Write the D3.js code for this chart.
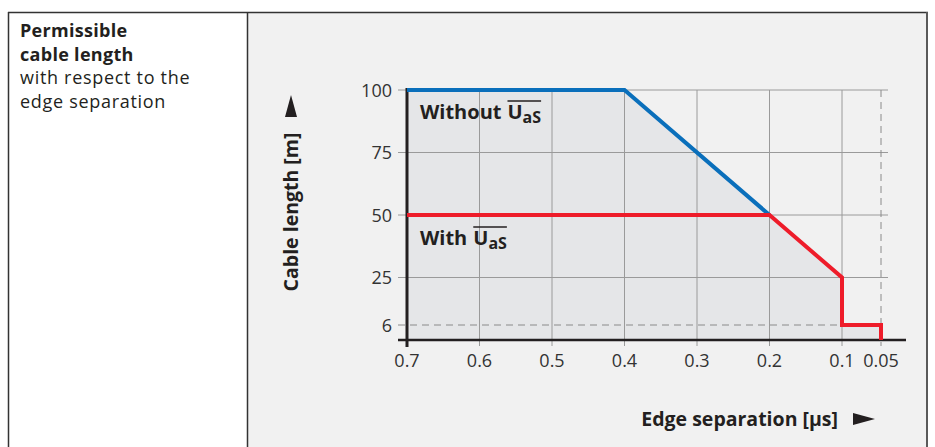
<!DOCTYPE html>
<html lang="en">
<head>
<meta charset="UTF-8">
<script src="https://d3js.org/d3.v7.min.js"></script>
<style>
  body { margin: 0; background: #fff; }
  svg text { font-family: "Open Sans", "Liberation Sans", sans-serif; fill: #231f20; }
</style>
</head>
<body>
<div id="chart"></div>
<script>
// data
const xTicks = [0.7, 0.6, 0.5, 0.4, 0.3, 0.2, 0.1, 0.05];
const xTickLabels = ["0.7", "0.6", "0.5", "0.4", "0.3", "0.2", "0.1", "0.05"];
const yTicks = [100, 75, 50, 25, 6];
const withoutX = [0.7, 0.4, 0.2];
const withoutY = [100, 100, 50];
const withX = [0.7, 0.2, 0.1, 0.1, 0.05, 0.05];
const withY = [50, 50, 25, 6, 6, 0];
const titleLines = ["Permissible", "cable length", "with respect to the", "edge separation"];

const w = 935, h = 447;
const svg = d3.select("#chart").append("svg").attr("width", w).attr("height", h);

// table cells
svg.append("rect").attr("x", 248).attr("y", 13).attr("width", 678).attr("height", h - 13).attr("fill", "#f1f1f1");
svg.append("line").attr("x1", 8).attr("x2", 928).attr("y1", 12.5).attr("y2", 12.5).attr("stroke", "#333").attr("stroke-width", 1.5);
svg.append("line").attr("x1", 8.5).attr("x2", 8.5).attr("y1", 12).attr("y2", h).attr("stroke", "#333").attr("stroke-width", 1.5);
svg.append("line").attr("x1", 247.5).attr("x2", 247.5).attr("y1", 12).attr("y2", h).attr("stroke", "#333").attr("stroke-width", 1.5);
svg.append("line").attr("x1", 927).attr("x2", 927).attr("y1", 12).attr("y2", h).attr("stroke", "#5a5a5a").attr("stroke-width", 2);

// left cell text
svg.selectAll(".ttl").data(titleLines).enter().append("text")
   .attr("x", 20).attr("y", (d, i) => 37 + i * 23.7)
   .style("font-size", "18px")
   .style("font-weight", (d, i) => i < 2 ? 700 : 400)
   .style("letter-spacing", (d, i) => i < 2 ? "0.3px" : "0.7px")
   .text(d => d);

// scales
const x = d3.scaleLinear().domain([0.7, 0.1, 0.05]).range([407, 842, 881]);
const y = d3.scaleLinear().domain([0, 100]).range([340, 90]);

// shaded area under the envelope
const envX = [0.7, 0.4, 0.2, 0.1, 0.1, 0.05, 0.05, 0.7];
const envY = [100, 100, 50, 25, 6, 6, 0, 0];
svg.append("path")
   .attr("d", d3.line()(envX.map((v, i) => [x(v), y(envY[i])])) + "Z")
   .attr("fill", "#e5e6e8");

// grid
const g = svg.append("g");
g.selectAll(".vg").data(xTicks.filter(v => v !== 0.7 && v !== 0.05)).enter().append("line")
   .attr("x1", d => x(d)).attr("x2", d => x(d))
   .attr("y1", y(100)).attr("y2", y(0) + 6)
   .attr("stroke", "#9a9a9a").attr("stroke-width", 1);
g.selectAll(".hg").data(yTicks.filter(v => v !== 6)).enter().append("line")
   .attr("x1", x(0.7) - 9).attr("x2", x(0.05) + 7)
   .attr("y1", d => y(d)).attr("y2", d => y(d))
   .attr("stroke", "#9a9a9a").attr("stroke-width", 1);
// dashed guides
g.append("line")
   .attr("x1", x(0.7) - 9).attr("x2", x(0.1))
   .attr("y1", y(6)).attr("y2", y(6))
   .attr("stroke", "#8a8a8a").attr("stroke-width", 1).attr("stroke-dasharray", "7,5");
g.append("line")
   .attr("x1", x(0.05)).attr("x2", x(0.05))
   .attr("y1", y(100)).attr("y2", y(0) + 6)
   .attr("stroke", "#8a8a8a").attr("stroke-width", 1).attr("stroke-dasharray", "7,5");

// axes lines
svg.append("line").attr("x1", x(0.7)).attr("x2", x(0.7)).attr("y1", y(100) - 2).attr("y2", y(0) + 7)
   .attr("stroke", "#231f20").attr("stroke-width", 3);
svg.append("line").attr("x1", x(0.7) - 9).attr("x2", x(0.05) + 25).attr("y1", y(0)).attr("y2", y(0))
   .attr("stroke", "#231f20").attr("stroke-width", 2.5);

// tick labels
svg.selectAll(".xl").data(xTicks).enter().append("text")
   .attr("x", d => x(d)).attr("y", 367)
   .attr("text-anchor", "middle")
   .style("font-size", "18px").style("font-weight", 400).style("fill", "#333")
   .text((d, i) => xTickLabels[i]);
svg.selectAll(".yl").data(yTicks).enter().append("text")
   .attr("x", 392).attr("y", d => y(d) + 6.5)
   .attr("text-anchor", "end")
   .style("font-size", "18px").style("font-weight", 400).style("fill", "#333")
   .text(d => d);

// series
const line = d3.line();
svg.append("path")
   .attr("d", line(withoutX.map((v, i) => [x(v), y(withoutY[i])])))
   .attr("fill", "none").attr("stroke", "#0a6fbb").attr("stroke-width", 4);
svg.append("path")
   .attr("d", line(withX.map((v, i) => [x(v), y(withY[i])])))
   .attr("fill", "none").attr("stroke", "#ee1c2a").attr("stroke-width", 4);

// series labels with overlined U_aS
function seriesLabel(word, lx, ly) {
  const t1 = svg.append("text").attr("x", lx).attr("y", ly)
     .style("font-size", "20px").style("font-weight", 700).text(word);
  const ux = lx + t1.node().getComputedTextLength() + 6;
  const t2 = svg.append("text").attr("x", ux).attr("y", ly)
     .style("font-size", "20px").style("font-weight", 700).text("U");
  const sx = ux + t2.node().getComputedTextLength();
  const t3 = svg.append("text").attr("x", sx).attr("y", ly + 4)
     .style("font-size", "16px").style("font-weight", 700).text("aS");
  const ex = sx + t3.node().getComputedTextLength();
  svg.append("line").attr("x1", ux).attr("x2", ex)
     .attr("y1", ly - 18).attr("y2", ly - 18)
     .attr("stroke", "#231f20").attr("stroke-width", 1.5);
}
seriesLabel("Without", 420, 119);
seriesLabel("With", 420, 245);

// axis titles with arrows
svg.append("text")
   .attr("transform", "translate(298,212) rotate(-90)")
   .attr("text-anchor", "middle")
   .style("font-size", "19.5px").style("font-weight", 700)
   .text("Cable length [m]");
svg.append("path").attr("d", "M291,95 L297,117 L285,117 Z").attr("fill", "#231f20");

svg.append("text")
   .attr("x", 838).attr("y", 426)
   .attr("text-anchor", "end")
   .style("font-size", "19.5px").style("font-weight", 700)
   .text("Edge separation [µs]");
svg.append("path").attr("d", "M853,413 L875,419 L853,425 Z").attr("fill", "#231f20");
</script>
</body>
</html>
